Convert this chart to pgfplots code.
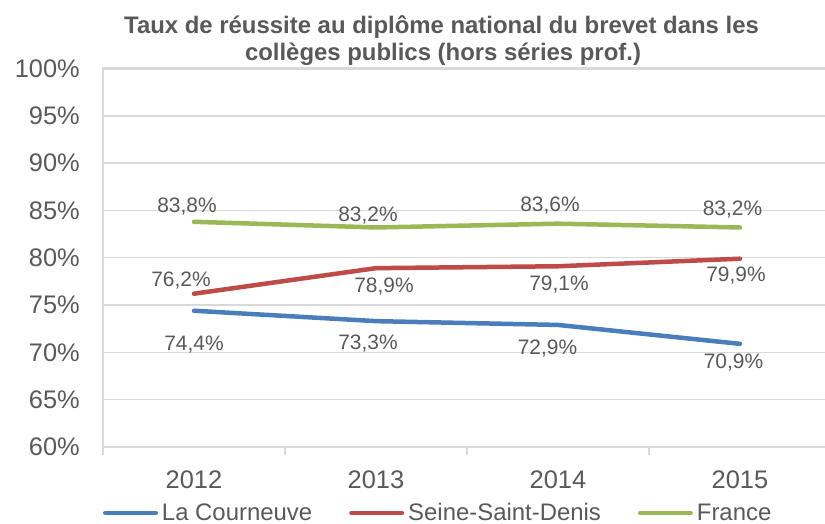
\documentclass[border=0pt]{standalone}
\usepackage{fontspec}
\setmainfont{Liberation Sans}
\usepackage{pgfplots}
\pgfplotsset{compat=1.18}
\definecolor{txt}{HTML}{595959}
\definecolor{gridc}{HTML}{D9D9D9}
\definecolor{cblue}{HTML}{4A7EBB}
\definecolor{cred}{HTML}{BE4B48}
\definecolor{cgreen}{HTML}{98B954}
\pgfplotsset{
  serie/.style={#1, line width=4.5bp, line cap=round, line join=round,
    nodes near coords={\pgfplotspointmeta\%},
    point meta=explicit symbolic,
    visualization depends on={\thisrow{dx} \as \dx},
    visualization depends on={\thisrow{dy} \as \dy},
    every node near coord/.append style={anchor=base, inner sep=0pt, text=txt,
      font=\fontsize{21}{25}\selectfont,
      xshift={\dx*1bp}, yshift={(\dy-7.5)*1bp}}},
}
\begin{document}
\begin{tikzpicture}
\useasboundingbox (0,0) rectangle (825bp,524bp);
\node[anchor=base, font=\bfseries\fontsize{24}{29}\selectfont, text=txt, inner sep=0pt] at (441.5bp,490.7bp) {Taux de réussite au diplôme national du brevet dans les};
\node[anchor=base, font=\bfseries\fontsize{24}{29}\selectfont, text=txt, inner sep=0pt] at (443bp,463.5bp) {collèges publics (hors séries prof.)};
\begin{axis}[
  at={(103bp,77bp)}, anchor=south west,
  scale only axis, width=728bp, height=378.5bp,
  xmin=0, xmax=4, ymin=60, ymax=100,
  clip=false,
  xtick={0.5,1.5,2.5,3.5}, xticklabels={2012,2013,2014,2015},
  minor xtick={0,1,2,3,4},
  ytick={60,65,...,100},
  yticklabels={60\%,65\%,70\%,75\%,80\%,85\%,90\%,95\%,100\%},
  ymajorgrids, major grid style={draw=gridc, line width=1.5bp},
  axis line style={draw=gridc, line width=2.5bp},
  tick pos=left, tick align=outside,
  major tick length=0pt, minor tick length=8bp,
  major tick style={draw=none},
  minor tick style={draw=gridc, line width=1.5bp},
  ticklabel style={font=\fontsize{25.5}{30}\selectfont, text=txt, inner sep=0pt},
  xticklabel style={anchor=base, yshift=-41bp},
  yticklabel style={anchor=east, xshift=-23bp},
  legend columns=3,
  legend style={at={(0,-0.1744)}, anchor=west, draw=none, fill=none,
    inner sep=0pt, outer sep=0pt,
    nodes={inner sep=0pt, font=\fontsize{24}{28}\selectfont, text=txt},
    column sep=4bp,
    /tikz/every even column/.append style={column sep=37bp}},
  legend image code/.code={\draw[#1] (2.25bp,0bp) -- (52.75bp,0bp);},
]
\addplot[serie=cblue] table[meta=lab] {
x y lab dx dy
0.5 74.4 74,4 0 -32
1.5 73.3 73,3 -8 -20.5
2.5 72.9 72,9 -10.5 -22
3.5 70.9 70,9 -6.5 -17
};
\addlegendentry{La Courneuve}
\addplot[serie=cred] table[meta=lab] {
x y lab dx dy
0.5 76.2 76,2 -13 15
1.5 78.9 78,9 8 -17
2.5 79.1 79,1 1 -17
3.5 79.9 79,9 -4 -15.5
};
\addlegendentry{Seine-Saint-Denis}
\addplot[serie=cgreen] table[meta=lab] {
x y lab dx dy
0.5 83.8 83,8 -7 17
1.5 83.2 83,2 -8 13.5
2.5 83.6 83,6 -8 20
3.5 83.2 83,2 -7.5 19.5
};
\addlegendentry{France}
\end{axis}
\end{tikzpicture}
\end{document}
